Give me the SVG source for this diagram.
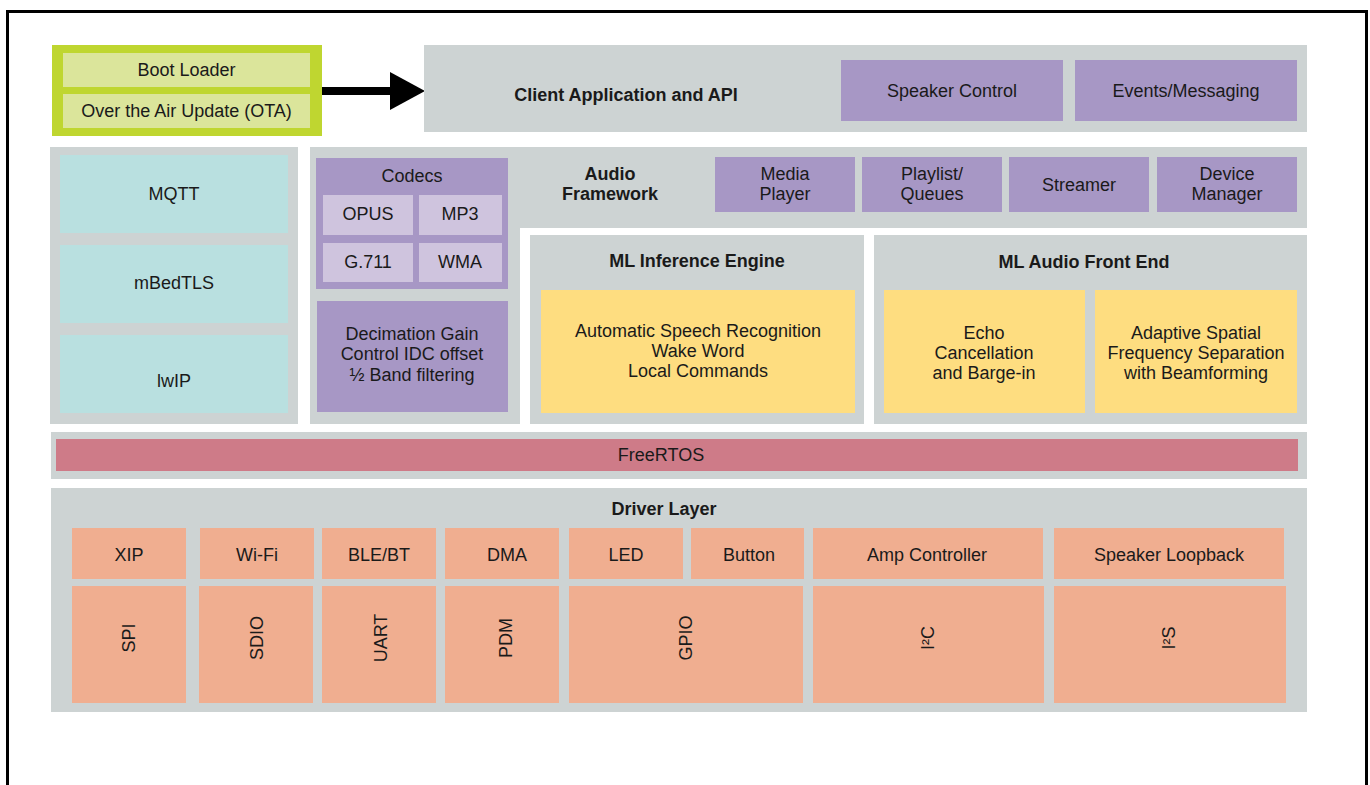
<svg xmlns="http://www.w3.org/2000/svg" width="1370" height="785" viewBox="0 0 1370 785">
<style>
text{font-family:"Liberation Sans",Arial,sans-serif;font-size:18px;fill:#1a1a1a;text-anchor:middle}
.b{font-weight:bold}
.g{fill:#cdd3d3}
.p{fill:#a797c5}
.lp{fill:#cfc4de}
.t{fill:#b9e0e0}
.y{fill:#fedd80}
.s{fill:#f0ae90}
.r{fill:#ce7b88}
.gr{fill:#bfd630}
.lg{fill:#dbe59b}
</style>
<rect width="1370" height="785" fill="#fff"/>
<path d="M7.5,785 V11.5 H1366.5 V785" fill="none" stroke="#000" stroke-width="3"/>

<g id="boot">
<rect class="gr" x="52" y="45" width="270" height="91"/>
<rect class="lg" x="63" y="53" width="247" height="34"/>
<rect class="lg" x="63" y="94" width="247" height="34"/>
<text x="186.5" y="76">Boot Loader</text>
<text x="186.5" y="117">Over the Air Update (OTA)</text>
</g>

<g id="connectors">
<rect x="322" y="87" width="70" height="8" fill="#000"/>
<polygon points="390,72 425,91 390,110" fill="#000"/>
</g>

<g id="client">
<rect class="g" x="424" y="45" width="883" height="87"/>
<text class="b" x="626" y="101">Client Application and API</text>
<rect class="p" x="841" y="60" width="222" height="61"/>
<text x="952" y="97">Speaker Control</text>
<rect class="p" x="1075" y="60" width="222" height="61"/>
<text x="1186" y="97">Events/Messaging</text>
</g>

<g id="network">
<rect class="g" x="50" y="147" width="248" height="277"/>
<rect class="t" x="60" y="155" width="228" height="78"/>
<text x="174" y="200">MQTT</text>
<rect class="t" x="60" y="245" width="228" height="78"/>
<text x="174" y="289">mBedTLS</text>
<rect class="t" x="60" y="335" width="228" height="78"/>
<text x="174" y="387">lwIP</text>
</g>

<g id="audio-framework">
<path class="g" d="M310,147 H1307 V228 H520 V424 H310 Z"/>
<text class="b" x="610" y="180">Audio</text>
<text class="b" x="610" y="200">Framework</text>
<rect class="p" x="715" y="157" width="140" height="55"/>
<text x="785" y="180">Media</text>
<text x="785" y="200">Player</text>
<rect class="p" x="862" y="157" width="140" height="55"/>
<text x="932" y="180">Playlist/</text>
<text x="932" y="200">Queues</text>
<rect class="p" x="1009" y="157" width="140" height="55"/>
<text x="1079" y="191">Streamer</text>
<rect class="p" x="1157" y="157" width="140" height="55"/>
<text x="1227" y="180">Device</text>
<text x="1227" y="200">Manager</text>
</g>

<g id="codecs">
<rect class="p" x="316" y="158" width="192" height="131"/>
<text x="412" y="182">Codecs</text>
<rect class="lp" x="323" y="195" width="90" height="40"/>
<text x="368" y="220">OPUS</text>
<rect class="lp" x="419" y="195" width="83" height="40"/>
<text x="460" y="220">MP3</text>
<rect class="lp" x="323" y="243" width="90" height="39"/>
<text x="368" y="268">G.711</text>
<rect class="lp" x="419" y="243" width="83" height="39"/>
<text x="460" y="268">WMA</text>
</g>

<g id="decimation">
<rect class="p" x="317" y="301" width="191" height="111"/>
<text x="412" y="340">Decimation Gain</text>
<text x="412" y="360">Control IDC offset</text>
<text x="412" y="381">½ Band filtering</text>
</g>

<g id="ml-inference">
<rect class="g" x="530" y="235" width="334" height="189"/>
<text class="b" x="697" y="267">ML Inference Engine</text>
<rect class="y" x="541" y="290" width="314" height="123"/>
<text x="698" y="337">Automatic Speech Recognition</text>
<text x="698" y="357">Wake Word</text>
<text x="698" y="377">Local Commands</text>
</g>

<g id="ml-front-end">
<rect class="g" x="874" y="235" width="433" height="189"/>
<text class="b" x="1084" y="268">ML Audio Front End</text>
<rect class="y" x="884" y="290" width="201" height="123"/>
<text x="984" y="339">Echo</text>
<text x="984" y="359">Cancellation</text>
<text x="984" y="379">and Barge-in</text>
<rect class="y" x="1095" y="290" width="202" height="123"/>
<text x="1196" y="339">Adaptive Spatial</text>
<text x="1196" y="359">Frequency Separation</text>
<text x="1196" y="379">with Beamforming</text>
</g>

<g id="freertos">
<rect class="g" x="51" y="432" width="1256" height="47"/>
<rect class="r" x="56" y="439" width="1242" height="32"/>
<text x="661" y="461">FreeRTOS</text>
</g>

<g id="driver-layer">
<rect class="g" x="51" y="488" width="1256" height="224"/>
<text class="b" x="664" y="515">Driver Layer</text>
<rect class="s" x="72" y="528" width="114" height="51"/>
<text x="129" y="561">XIP</text>
<rect class="s" x="200" y="528" width="114" height="51"/>
<text x="257" y="561">Wi-Fi</text>
<rect class="s" x="322" y="528" width="114" height="51"/>
<text x="379" y="561">BLE/BT</text>
<rect class="s" x="445" y="528" width="114" height="51"/>
<text x="507" y="561">DMA</text>
<rect class="s" x="569" y="528" width="114" height="51"/>
<text x="626" y="561">LED</text>
<rect class="s" x="691" y="528" width="113" height="51"/>
<text x="749" y="561">Button</text>
<rect class="s" x="813" y="528" width="230" height="51"/>
<text x="927" y="561">Amp Controller</text>
<rect class="s" x="1054" y="528" width="230" height="51"/>
<text x="1169" y="561">Speaker Loopback</text>

<rect class="s" x="72" y="586" width="114" height="117"/>
<text transform="translate(135,638) rotate(-90)">SPI</text>
<rect class="s" x="199" y="586" width="114" height="117"/>
<text transform="translate(263,638) rotate(-90)">SDIO</text>
<rect class="s" x="322" y="586" width="114" height="117"/>
<text transform="translate(387,638) rotate(-90)">UART</text>
<rect class="s" x="445" y="586" width="114" height="117"/>
<text transform="translate(512,638) rotate(-90)">PDM</text>
<rect class="s" x="569" y="586" width="234" height="117"/>
<text transform="translate(692,638) rotate(-90)">GPIO</text>
<rect class="s" x="813" y="586" width="231" height="117"/>
<text transform="translate(934,638) rotate(-90)">I²C</text>
<rect class="s" x="1054" y="586" width="232" height="117"/>
<text transform="translate(1175,638) rotate(-90)">I²S</text>
</g>
</svg>
